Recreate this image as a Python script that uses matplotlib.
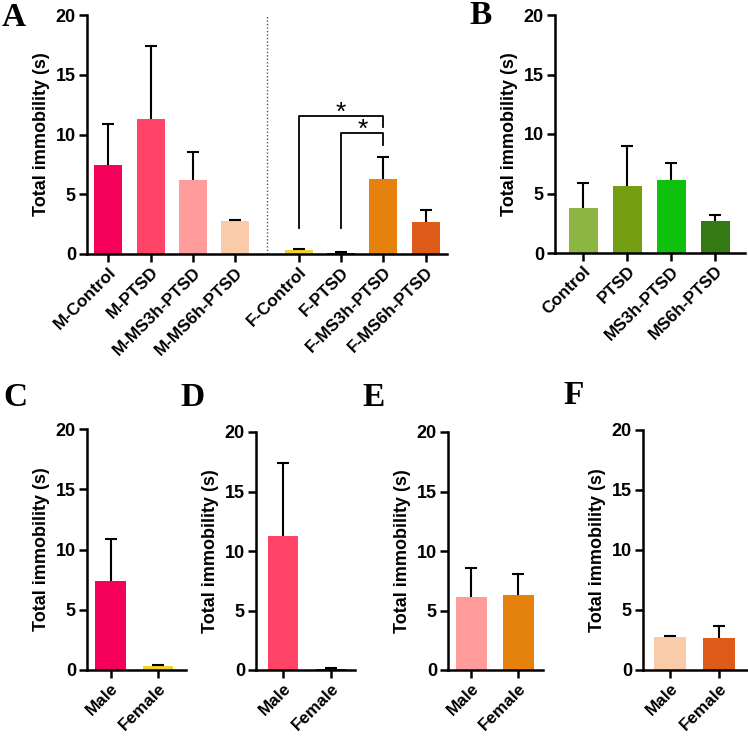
import matplotlib
matplotlib.use("Agg")
import matplotlib.pyplot as plt
import numpy as np

plt.rcParams['font.family'] = ['Liberation Sans', 'DejaVu Sans']
plt.rcParams['font.weight'] = 'bold'

# ---- Data ----
a_labels = ["M-Control", "M-PTSD", "M-MS3h-PTSD", "M-MS6h-PTSD",
            "F-Control", "F-PTSD", "F-MS3h-PTSD", "F-MS6h-PTSD"]
a_means = [7.45, 11.3, 6.17, 2.76, 0.3, 0.1, 6.28, 2.7]
a_errs = [3.45, 6.1, 2.37, 0.09, 0.1, 0.05, 1.81, 0.95]
a_colors = ["#F5005A", "#FF4468", "#FF9B9B", "#F9CBA9",
            "#F0D22A", "#222222", "#E5820E", "#DD5A18"]

b_labels = ["Control", "PTSD", "MS3h-PTSD", "MS6h-PTSD"]
b_means = [3.76, 5.63, 6.13, 2.66]
b_errs = [2.12, 3.39, 1.46, 0.51]
b_colors = ["#8DB543", "#749E12", "#0DC10D", "#347A12"]

sex_labels = ["Male", "Female"]
c_means = [7.4, 0.3]
c_errs = [3.5, 0.1]
c_colors = ["#F5005A", "#F0D22A"]
d_means = [11.3, 0.1]
d_errs = [6.1, 0.05]
d_colors = ["#FF4468", "#222222"]
e_means = [6.17, 6.28]
e_errs = [2.37, 1.81]
e_colors = ["#FF9B9B", "#E5820E"]
f_means = [2.76, 2.7]
f_errs = [0.09, 0.95]
f_colors = ["#F9CBA9", "#DD5A18"]

ylabel = "Total immobility (s)"
yticks = [0, 5, 10, 15, 20]

W, H = 748, 737
FS = 13
XFS = 12.3
fig = plt.figure(figsize=(W / 100, H / 100), dpi=100)


def ax_at(left, right, top, bottom):
    return fig.add_axes([left / W, (H - bottom) / H, (right - left) / W, (bottom - top) / H])


def style(ax, xpos, labels, xlim, width, means, errs, colors):
    ax.bar(xpos, means, width=width, color=colors, zorder=2)
    _, caps, _ = ax.errorbar(xpos, means, yerr=[np.zeros(len(means)), errs], fmt='none',
                             ecolor='black', elinewidth=1.5, capsize=4.5, capthick=1.5,
                             zorder=3)
    if len(caps) == 2:
        caps[0].set_visible(False)
    ax.set_ylim(0, 20)
    ax.set_xlim(*xlim)
    ax.set_yticks(yticks)
    ax.set_xticks(xpos)
    ax.set_xticklabels(labels, rotation=45, ha='right', rotation_mode='anchor',
                       fontsize=XFS, fontweight='bold')
    ax.tick_params(axis='y', direction='out', length=5.5, width=1.8, labelsize=FS, pad=2.5)
    ax.tick_params(axis='x', direction='out', length=5.5, width=1.8, pad=2)
    for lab in ax.get_yticklabels():
        lab.set_fontweight('bold')
    for s in ['top', 'right']:
        ax.spines[s].set_visible(False)
    for s in ['left', 'bottom']:
        ax.spines[s].set_linewidth(1.8)
    ax.set_ylabel(ylabel, fontsize=FS, fontweight='bold', labelpad=4)


# Panel A
axA = ax_at(87, 447, 15, 254)
a_pos = [0, 1, 2, 3, 4.5, 5.5, 6.5, 7.5]
style(axA, a_pos, a_labels, (-0.5, 8.0), 0.66, a_means, a_errs, a_colors)
axA.axvline(3.75, ymin=0, ymax=1, color='#555555', linestyle=(0, (1, 1.5)), linewidth=1)
# significance brackets
axA.plot([4.5, 4.5, 6.5, 6.5], [2.2, 11.57, 11.57, 10.6], color='black', lw=1.3)
axA.plot([5.5, 5.5, 6.5, 6.5], [2.2, 10.1, 10.1, 9.12], color='black', lw=1.3)
axA.text(5.5, 11.85, "*", ha='center', va='center', fontsize=19, fontweight='normal')
axA.text(6.0, 10.35, "*", ha='center', va='center', fontsize=19, fontweight='normal')

# Panel B
axB = ax_at(555, 745, 15, 253)
style(axB, [0, 1, 2, 3], b_labels, (-0.64, 3.67), 0.66, b_means, b_errs, b_colors)

# Panels C-F
axC = ax_at(87, 186, 429, 670)
style(axC, [0, 1], sex_labels, (-0.5, 1.59), 0.65, c_means, c_errs, c_colors)
axD = ax_at(256, 355, 432, 670)
style(axD, [0, 1], sex_labels, (-0.56, 1.5), 0.63, d_means, d_errs, d_colors)
axE = ax_at(448, 543, 432, 670)
style(axE, [0, 1], sex_labels, (-0.5, 1.53), 0.66, e_means, e_errs, e_colors)
axF = ax_at(643, 747, 430, 670)
style(axF, [0, 1], sex_labels, (-0.545, 1.565), 0.65, f_means, f_errs, f_colors)

# Panel letters
for txt, x, y in [("A", 2, 2), ("B", 469, 0), ("C", 3, 382), ("D", 180, 382),
                  ("E", 362, 382), ("F", 563, 380)]:
    fig.text(x / W, 1 - y / H, txt, ha='left', va='top', fontsize=24,
             fontweight='bold', family=['Liberation Serif', 'DejaVu Serif'])

fig.savefig("out.png", dpi=100)
